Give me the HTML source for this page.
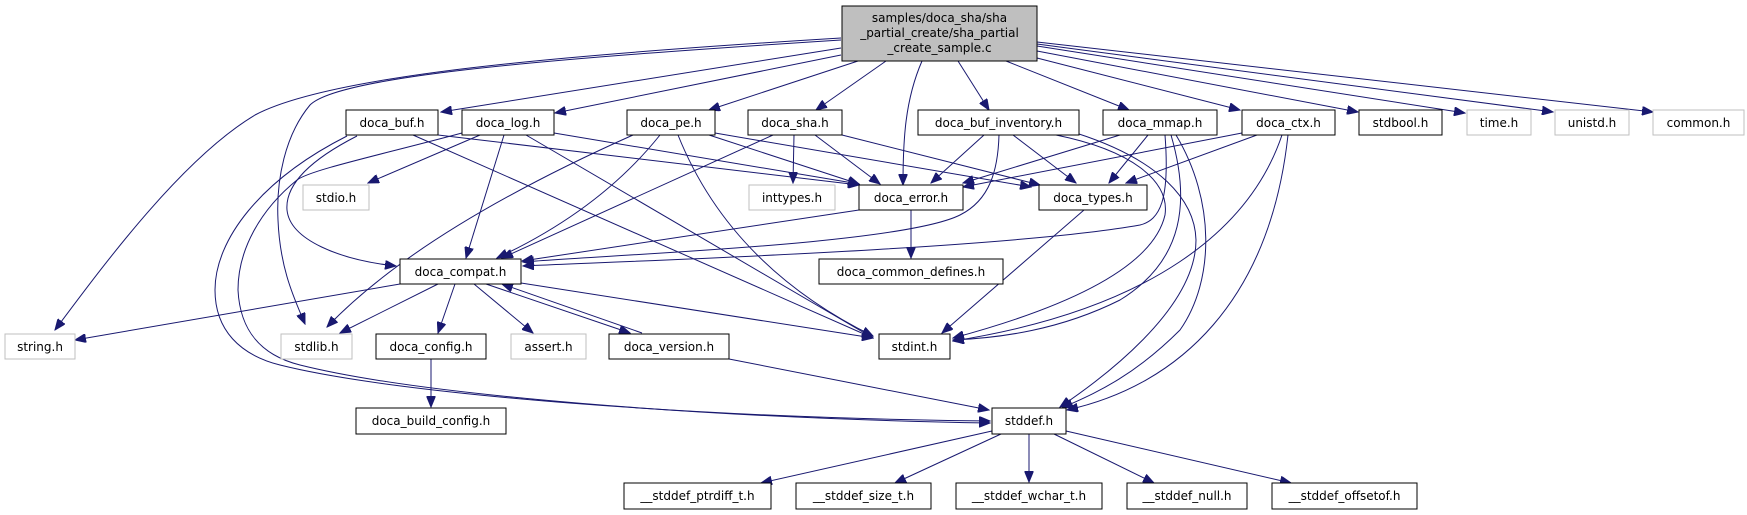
<!DOCTYPE html>
<html><head><meta charset="utf-8"><style>
html,body{margin:0;padding:0;background:#fff;}
svg{display:block;}
text{font-family:"DejaVu Sans","Liberation Sans",sans-serif;font-size:12px;fill:#000;text-anchor:middle;}
.n{fill:#fff;stroke:#000;stroke-width:1;}
.g{fill:#fff;stroke:#bfbfbf;stroke-width:1;}
.e{fill:none;stroke:#191970;stroke-width:1;marker-end:url(#a);}
</style></head><body>
<svg width="1747" height="515" viewBox="0 0 1747 515" xmlns="http://www.w3.org/2000/svg">
<defs><marker id="a" markerUnits="userSpaceOnUse" markerWidth="12" markerHeight="9" refX="11" refY="4.5" orient="auto"><path d="M0,0 L11,4.5 L0,9 z" fill="#191970" stroke="#191970"/></marker></defs>
<g>
<path class="e" d="M841,48 L441,112"/>
<path class="e" d="M841,55 L555,113"/>
<path class="e" d="M858,61 L709,110"/>
<path class="e" d="M886,61 L816,110"/>
<path class="e" d="M841,38 C560,55 330,75 255,115 C180,160 100,270 55,330"/>
<path class="e" d="M841,40 C560,58 340,75 310,105 C285,135 276,180 278,220 C280,270 295,300 305,324"/>
<path class="e" d="M357,136 C310,160 285,185 287,210 C290,240 340,260 396,266"/>
<path class="e" d="M922,61 C905,100 903,140 903,185"/>
<path class="e" d="M958,61 L989,110"/>
<path class="e" d="M1006,61 L1129,110"/>
<path class="e" d="M1037,58 L1240,110"/>
<path class="e" d="M1037,51 L1358,112"/>
<path class="e" d="M1037,46 L1465,113"/>
<path class="e" d="M1037,44 L1553,112"/>
<path class="e" d="M1037,42 L1653,112"/>
<path class="e" d="M438,135 L859,185"/>
<path class="e" d="M413,135 L873,338"/>
<path class="e" d="M347,136 C260,180 215,240 215,290 C215,330 240,355 280,365 C400,395 700,418 990,421"/>
<path class="e" d="M462,133 C380,155 310,170 297,180 C260,210 238,250 238,290 C240,330 260,355 300,365 C420,395 700,418 990,423"/>
<path class="e" d="M480,135 L368,183"/>
<path class="e" d="M504,135 L466,258"/>
<path class="e" d="M526,135 L873,338"/>
<path class="e" d="M554,133 L859,184"/>
<path class="e" d="M633,135 Q420,230 327,327"/>
<path class="e" d="M660,135 Q600,210 497,258"/>
<path class="e" d="M678,135 C720,240 800,300 873,336"/>
<path class="e" d="M709,135 L859,184"/>
<path class="e" d="M715,133 L1031,187"/>
<path class="e" d="M773,135 L502,258"/>
<path class="e" d="M794,135 L793,183"/>
<path class="e" d="M815,135 L880,184"/>
<path class="e" d="M842,135 L1040,185"/>
<path class="e" d="M984,135 L931,183"/>
<path class="e" d="M1013,135 L1076,183"/>
<path class="e" d="M999,135 C998,170 990,200 960,215 C900,245 600,255 523,262"/>
<path class="e" d="M1056,135 C1130,150 1170,180 1165,215 C1150,280 1020,320 953,338"/>
<path class="e" d="M1076,133 C1160,160 1195,200 1196,240 C1196,310 1100,380 1060,407"/>
<path class="e" d="M1120,135 L963,183"/>
<path class="e" d="M1148,135 L1109,183"/>
<path class="e" d="M1165,135 C1170,200 1160,220 1140,225 C1000,250 600,262 523,266"/>
<path class="e" d="M1171,135 C1190,200 1185,260 1120,300 C1060,330 1000,338 953,340"/>
<path class="e" d="M1176,135 C1215,200 1215,280 1180,330 C1130,380 1090,395 1062,408"/>
<path class="e" d="M1242,133 L963,187"/>
<path class="e" d="M1257,135 L1126,183"/>
<path class="e" d="M1282,135 C1250,230 1150,310 953,341"/>
<path class="e" d="M1288,135 C1270,300 1180,385 1067,410"/>
<path class="e" d="M859,210 L522,261"/>
<path class="e" d="M911,210 L911,258"/>
<path class="e" d="M1084,210 L942,333"/>
<path class="e" d="M400,284 L75,340"/>
<path class="e" d="M438,284 L340,333"/>
<path class="e" d="M455,284 L438,333"/>
<path class="e" d="M474,284 L533,333"/>
<path class="e" d="M486,284 L630,333"/>
<path class="e" d="M521,283 L873,338"/>
<path class="e" d="M642,333 L502,284"/>
<path class="e" d="M729,359 L989,410"/>
<path class="e" d="M431,359 L431,407"/>
<path class="e" d="M992,431 L761,483"/>
<path class="e" d="M1001,434 L895,483"/>
<path class="e" d="M1029,434 L1029,482"/>
<path class="e" d="M1054,434 L1154,483"/>
<path class="e" d="M1066,431 L1291,483"/>
</g>
<g>
<rect x="842" y="6" width="195" height="55" fill="#bfbfbf" stroke="#000"/>
<text x="939.5" y="22">samples/doca_sha/sha</text>
<text x="939.5" y="37">_partial_create/sha_partial</text>
<text x="939.5" y="52">_create_sample.c</text>

<rect class="n" x="346" y="110" width="92" height="25"/><text x="392" y="127">doca_buf.h</text>
<rect class="n" x="462" y="110" width="92" height="25"/><text x="508" y="127">doca_log.h</text>
<rect class="n" x="627" y="110" width="88" height="25"/><text x="671" y="127">doca_pe.h</text>
<rect class="n" x="748" y="110" width="94" height="25"/><text x="795" y="127">doca_sha.h</text>
<rect class="n" x="918" y="110" width="161" height="25"/><text x="998.5" y="127">doca_buf_inventory.h</text>
<rect class="n" x="1103" y="110" width="114" height="25"/><text x="1160" y="127">doca_mmap.h</text>
<rect class="n" x="1242" y="110" width="93" height="25"/><text x="1288.5" y="127">doca_ctx.h</text>
<rect class="n" x="1359" y="110" width="83" height="25"/><text x="1400.5" y="127">stdbool.h</text>
<rect class="g" x="1467" y="110" width="64" height="25"/><text x="1499" y="127">time.h</text>
<rect class="g" x="1555" y="110" width="74" height="25"/><text x="1592" y="127">unistd.h</text>
<rect class="g" x="1653" y="110" width="91" height="25"/><text x="1698.5" y="127">common.h</text>

<rect class="g" x="303" y="185" width="66" height="25"/><text x="336" y="202">stdio.h</text>
<rect class="g" x="749" y="185" width="86" height="25"/><text x="792" y="202">inttypes.h</text>
<rect class="n" x="859" y="185" width="104" height="25"/><text x="911" y="202">doca_error.h</text>
<rect class="n" x="1039" y="185" width="108" height="25"/><text x="1093" y="202">doca_types.h</text>

<rect class="n" x="400" y="259" width="121" height="25"/><text x="460.5" y="276">doca_compat.h</text>
<rect class="n" x="819" y="259" width="184" height="25"/><text x="911" y="276">doca_common_defines.h</text>

<rect class="g" x="5" y="334" width="70" height="25"/><text x="40" y="351">string.h</text>
<rect class="g" x="281" y="334" width="71" height="25"/><text x="316.5" y="351">stdlib.h</text>
<rect class="n" x="376" y="334" width="110" height="25"/><text x="431" y="351">doca_config.h</text>
<rect class="g" x="511" y="334" width="75" height="25"/><text x="548.5" y="351">assert.h</text>
<rect class="n" x="609" y="334" width="120" height="25"/><text x="669" y="351">doca_version.h</text>
<rect class="n" x="879" y="334" width="71" height="25"/><text x="914.5" y="351">stdint.h</text>

<rect class="n" x="356" y="408" width="150" height="26"/><text x="431" y="425">doca_build_config.h</text>
<rect class="n" x="992" y="408" width="74" height="26"/><text x="1029" y="425">stddef.h</text>

<rect class="n" x="624" y="483" width="147" height="26"/><text x="697.5" y="500">__stddef_ptrdiff_t.h</text>
<rect class="n" x="796" y="483" width="135" height="26"/><text x="863.5" y="500">__stddef_size_t.h</text>
<rect class="n" x="956" y="483" width="146" height="26"/><text x="1029" y="500">__stddef_wchar_t.h</text>
<rect class="n" x="1127" y="483" width="120" height="26"/><text x="1187" y="500">__stddef_null.h</text>
<rect class="n" x="1272" y="483" width="145" height="26"/><text x="1344.5" y="500">__stddef_offsetof.h</text>
</g>
</svg>
</body></html>
